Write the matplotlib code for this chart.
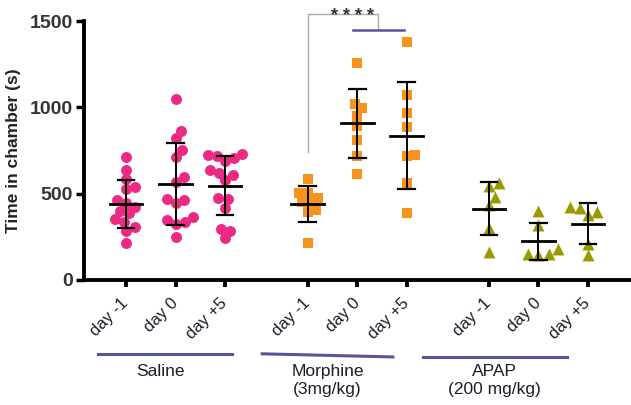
import numpy as np
import matplotlib.pyplot as plt

plt.rcParams['font.family'] = ['Liberation Sans', 'DejaVu Sans']

# values (time in chamber, s)
saline_m1 = [714, 637, 583, 540, 525, 463, 444, 425, 401, 386, 351, 338, 305, 285, 216]
saline_d0 = [1046, 865, 820, 753, 714, 595, 569, 467, 463, 444, 363, 347, 338, 324, 247]
saline_p5 = [730, 724, 718, 705, 691, 637, 621, 608, 579, 473, 467, 415, 293, 285, 241]
morph_m1 = [583, 502, 502, 473, 454, 444, 405, 396, 212]
morph_d0 = [1255, 1019, 994, 952, 892, 811, 718, 614]
morph_p5 = [1376, 1071, 969, 888, 724, 718, 560, 386]
apap_m1 = [560, 544, 483, 434, 299, 164]
apap_d0 = [401, 318, 178, 151, 151, 145]
apap_p5 = [421, 415, 396, 376, 208, 145]

day_labels = ['day -1', 'day 0', 'day +5']
groups = ['Saline', 'Morphine\n(3mg/kg)', 'APAP\n(200 mg/kg)']
series = [[saline_m1, saline_d0, saline_p5],
          [morph_m1, morph_d0, morph_p5],
          [apap_m1, apap_d0, apap_p5]]

colors = ['#ec2a84', '#f7941d', '#9a9a00']
markers = ['o', 's', '^']
msize = [7.9, 7.4, 8.6]
text_c = '#1c1c2a'

group_x = [0, 3.67, 7.33]

fig = plt.figure(figsize=(6.31, 4.05), dpi=100)
ax = fig.add_axes([84 / 631, 125 / 405, 546 / 631, 259 / 405])
ax.set_xlim(-0.85, 10.18)
ax.set_ylim(0, 1500)

sx = ax.transData.transform((1, 0))[0] - ax.transData.transform((0, 0))[0]
sy = ax.transData.transform((0, 1))[1] - ax.transData.transform((0, 0))[1]


def swarm(vals, d):
    # simple beeswarm, offsets in pixels
    vals = np.asarray(vals, float)
    placed = []
    offs = np.zeros(len(vals))
    for i in np.argsort(vals):
        y = vals[i] * sy
        cands = [0.0]
        for px, py in placed:
            dy = y - py
            if abs(dy) < d:
                dx = np.sqrt(d * d - dy * dy)
                cands += [px + dx, px - dx]
        cands.sort(key=abs)
        for c in cands:
            if all((c - px) ** 2 + (y - py) ** 2 >= d * d - 1e-6 for px, py in placed):
                break
        placed.append((c, y))
        offs[i] = c
    return offs / sx


ticks = []
for g, gx in enumerate(group_x):
    for k in range(3):
        x0 = gx + k
        ticks.append(x0)
        vals = np.array(series[g][k])
        d = msize[g] * 100 / 72 * 0.85
        xs = x0 + swarm(vals, d)
        ax.scatter(xs, vals, s=msize[g] ** 2, marker=markers[g], color=colors[g],
                   linewidths=0, zorder=2, clip_on=False)
        m = vals.mean()
        sd = vals.std(ddof=1)
        ax.plot([x0 - 0.33, x0 + 0.33], [m, m], color='black', lw=2.0, zorder=3)
        ax.plot([x0, x0], [m - sd, m + sd], color='black', lw=1.4, zorder=3)
        for yy in (m - sd, m + sd):
            ax.plot([x0 - 0.17, x0 + 0.17], [yy, yy], color='black', lw=1.6, zorder=3)

for side in ('top', 'right'):
    ax.spines[side].set_visible(False)
for side in ('left', 'bottom'):
    ax.spines[side].set_linewidth(2.8)
    ax.spines[side].set_color('black')

ax.set_yticks([0, 500, 1000, 1500])
ax.tick_params(axis='y', length=6, width=2.5, labelsize=14, labelcolor='#333333', pad=2)
for lb in ax.get_yticklabels():
    lb.set_fontweight('bold')
ax.set_ylabel('Time in chamber (s)', fontsize=12.5, fontweight='bold', color='#222222', labelpad=6)

ax.set_xticks(ticks)
ax.set_xticklabels(day_labels * 3, rotation=45, ha='right', va='center',
                   rotation_mode='anchor', fontsize=12, color=text_c)
ax.tick_params(axis='x', length=5, width=2.8, pad=10)

# group underlines and names
line_c = '#55559a'
tr = ax.get_xaxis_transform()
spans = [(-0.57, 2.14, -0.286, -0.286), (2.75, 5.39, -0.285, -0.297), (6.0, 8.9, -0.298, -0.298)]
name_x = [0.69, 4.07, 7.45]
for (a, b, ya, yb), nx, name in zip(spans, name_x, groups):
    ax.plot([a, b], [ya, yb], color=line_c, lw=2.2, transform=tr, clip_on=False)
    ax.text(nx, -0.325, name, transform=tr, ha='center', va='top', fontsize=12.5,
            color=text_c, linespacing=1.2)

# significance bracket
ax.plot([3.67, 3.67, 5.09, 5.09], [741, 1540, 1540, 1448], color='#aaaaaa', lw=1,
        clip_on=False)
ax.plot([4.59, 5.62], [1448, 1448], color=line_c, lw=1.8, clip_on=False)
ax.text(4.57, 1500, '* * * *', ha='center', va='baseline', fontsize=13,
        fontweight='bold', color='#333333', clip_on=False)

fig.savefig('out.png', dpi=100)
